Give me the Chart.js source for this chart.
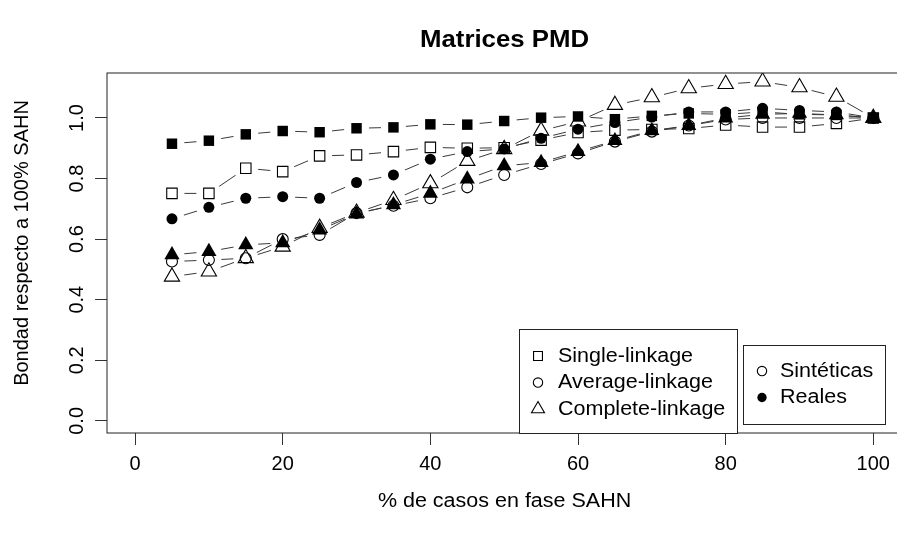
<!DOCTYPE html>
<html>
<head>
<meta charset="utf-8">
<script src="https://cdn.jsdelivr.net/npm/chart.js@4.4.0/dist/chart.umd.min.js"></script>
<style>
  html, body { margin: 0; padding: 0; background: #fff; overflow: hidden; }
  #wrap { width: 912px; height: 537px; }
</style>
</head>
<body>
<div id="wrap"><canvas id="chart" width="912" height="537"></canvas></div>
<script>
// Data
const xValues = [5, 10, 15, 20, 25, 30, 35, 40, 45, 50, 55, 60, 65, 70, 75, 80, 85, 90, 95, 100];

const singleSint = [0.751, 0.751, 0.834, 0.823, 0.875, 0.878, 0.889, 0.903, 0.900, 0.902, 0.927, 0.952, 0.960, 0.962, 0.965, 0.977, 0.970, 0.970, 0.982, 1.0];
const singleReal = [0.915, 0.925, 0.946, 0.957, 0.953, 0.966, 0.969, 0.979, 0.978, 0.990, 1.001, 1.005, 0.996, 1.007, 1.015, 1.012, 1.020, 1.012, 1.010, 1.0];
const averageSint = [0.526, 0.531, 0.537, 0.600, 0.614, 0.686, 0.710, 0.735, 0.771, 0.812, 0.848, 0.883, 0.922, 0.955, 0.975, 0.995, 1.000, 1.000, 1.000, 1.0];
const averageReal = [0.667, 0.705, 0.735, 0.740, 0.735, 0.787, 0.812, 0.864, 0.889, 0.898, 0.933, 0.963, 0.985, 1.003, 1.020, 1.020, 1.032, 1.025, 1.020, 1.0];
const completeSint = [0.476, 0.493, 0.537, 0.575, 0.637, 0.687, 0.729, 0.784, 0.858, 0.897, 0.958, 0.988, 1.043, 1.068, 1.098, 1.112, 1.120, 1.101, 1.070, 1.0];
const completeReal = [0.548, 0.559, 0.581, 0.588, 0.630, 0.683, 0.713, 0.751, 0.798, 0.842, 0.853, 0.889, 0.925, 0.958, 0.975, 1.000, 1.012, 1.015, 1.010, 1.0];

const xTicks = [0, 20, 40, 60, 80, 100];
const yTicks = [0, 0.2, 0.4, 0.6, 0.8, 1.0];
const yTickLabels = ['0.0', '0.2', '0.4', '0.6', '0.8', '1.0'];

const chartTitle = 'Matrices PMD';
const xTitle = '% de casos en fase SAHN';
const yTitle = 'Bondad respecto a 100% SAHN';
const methodLabels = ['Single-linkage', 'Average-linkage', 'Complete-linkage'];
const typeLabels = ['Sintéticas', 'Reales'];

const FONT = "'Liberation Sans', Arial, Helvetica, sans-serif";
const GAP = 12.5; // R type="b" leaves a gap round each point
const STRETCH = 1.075; // horizontal text in the reference runs a little wide

// marker size for each point style
const markerRadius = { rect: 7.4, circle: 5.5, triangle: 8.8 };

const series = [
  { data: singleReal, style: 'rect', filled: true },
  { data: averageReal, style: 'circle', filled: true },
  { data: completeReal, style: 'triangle', filled: true },
  { data: singleSint, style: 'rect', filled: false },
  { data: averageSint, style: 'circle', filled: false },
  { data: completeSint, style: 'triangle', filled: false },
];

const toPoints = (values) => values.map((v, i) => ({ x: xValues[i], y: v }));

const datasets = [];
// connecting lines first, under the markers
series.forEach((s) => {
  datasets.push({
    isLine: true,
    data: toPoints(s.data),
    showLine: true,
    borderColor: '#3a3a3a',
    borderWidth: 1,
    pointRadius: 0,
    pointHoverRadius: 0,
    order: 2,
  });
});
series.forEach((s) => {
  datasets.push({
    data: toPoints(s.data),
    showLine: false,
    pointStyle: s.style,
    pointRadius: markerRadius[s.style],
    pointHoverRadius: markerRadius[s.style],
    pointBackgroundColor: s.filled ? '#000' : 'rgba(0,0,0,0)',
    pointBorderColor: '#000',
    pointBorderWidth: s.filled ? 0 : 1.1,
    order: 1,
  });
});

// clip small discs round each point so the lines stop short of the markers
const gapPlugin = {
  id: 'gapLines',
  beforeDatasetDraw(chart, args) {
    const ds = chart.data.datasets[args.index];
    if (!ds.isLine) return;
    const ctx = chart.ctx;
    ctx.save();
    ctx.beginPath();
    ctx.rect(0, 0, chart.width, chart.height);
    args.meta.data.forEach((pt) => {
      ctx.moveTo(pt.x + GAP, pt.y);
      ctx.arc(pt.x, pt.y, GAP, 0, Math.PI * 2);
    });
    ctx.clip('evenodd');
  },
  afterDatasetDraw(chart, args) {
    const ds = chart.data.datasets[args.index];
    if (ds.isLine) chart.ctx.restore();
  },
};

function drawSymbol(ctx, style, filled, r, x, y) {
  ctx.save();
  ctx.fillStyle = filled ? '#000' : 'rgba(0,0,0,0)';
  ctx.strokeStyle = '#000';
  ctx.lineWidth = filled ? 0 : 1.1;
  Chart.helpers.drawPoint(ctx, { pointStyle: style, radius: r, borderWidth: filled ? 0 : 1.1, rotation: 0 }, x, y);
  ctx.restore();
}

function drawText(ctx, text, x, y, angle, stretch) {
  ctx.save();
  ctx.translate(x, y);
  if (angle) ctx.rotate(angle);
  ctx.scale(stretch, 1);
  ctx.fillText(text, 0, 0);
  ctx.restore();
}

// box, y labels, titles and both legends, R style
const framePlugin = {
  id: 'frame',
  afterDraw(chart) {
    const ctx = chart.ctx;
    const area = chart.chartArea;
    const yScale = chart.scales.y;
    const midX = (area.left + area.right) / 2;

    ctx.save();
    ctx.strokeStyle = '#222';
    ctx.lineWidth = 1;
    ctx.strokeRect(area.left, area.top, area.right - area.left, area.bottom - area.top);

    ctx.fillStyle = '#000';
    ctx.font = `20px ${FONT}`;
    ctx.textAlign = 'center';
    ctx.textBaseline = 'middle';

    yTicks.forEach((v, i) => {
      const y = yScale.getPixelForValue(v);
      drawText(ctx, yTickLabels[i], 77, y, -Math.PI / 2, 1);
    });

    drawText(ctx, yTitle, 22, 243, -Math.PI / 2, 1);
    drawText(ctx, xTitle, midX, 501, 0, STRETCH);

    ctx.font = `bold 24px ${FONT}`;
    drawText(ctx, chartTitle, midX, 40, 0, STRETCH);

    // legend: methods
    ctx.fillStyle = '#fff';
    ctx.fillRect(519.5, 329.5, 218, 104);
    ctx.strokeRect(519.5, 329.5, 218, 104);
    const styles = ['rect', 'circle', 'triangle'];
    ctx.font = `20px ${FONT}`;
    methodLabels.forEach((label, i) => {
      const y = 356 + i * 26.5;
      drawSymbol(ctx, styles[i], false, markerRadius[styles[i]] * 0.85, 538, y);
      ctx.fillStyle = '#000';
      ctx.textAlign = 'left';
      drawText(ctx, label, 558, y, 0, STRETCH);
    });

    // legend: data type
    ctx.fillStyle = '#fff';
    ctx.fillRect(743.5, 345.5, 142, 79);
    ctx.strokeRect(743.5, 345.5, 142, 79);
    typeLabels.forEach((label, i) => {
      const y = 371 + i * 26.5;
      drawSymbol(ctx, 'circle', i === 1, markerRadius.circle * 0.85, 762, y);
      ctx.fillStyle = '#000';
      ctx.textAlign = 'left';
      drawText(ctx, label, 780, y, 0, STRETCH);
    });
    ctx.restore();
  },
};

new Chart(document.getElementById('chart').getContext('2d'), {
  type: 'scatter',
  data: { datasets },
  options: {
    responsive: false,
    animation: false,
    events: [],
    layout: { padding: { left: 0, top: 73, right: 8, bottom: 0 } },
    plugins: {
      legend: { display: false },
      title: { display: false },
      tooltip: { enabled: false },
    },
    scales: {
      x: {
        type: 'linear',
        min: -3.8,
        max: 103.9,
        afterBuildTicks: (scale) => {
          scale.ticks = xTicks.map((v) => ({ value: v }));
        },
        afterFit: (scale) => {
          scale.height = 104;
        },
        grid: { drawOnChartArea: false, drawTicks: true, tickLength: 12, color: '#333' },
        border: { display: false },
        ticks: {
          color: '#000',
          font: { family: FONT, size: 20 },
          padding: 7,
          maxRotation: 0,
          autoSkip: false,
        },
      },
      y: {
        type: 'linear',
        min: -0.04,
        max: 1.1485,
        afterBuildTicks: (scale) => {
          scale.ticks = yTicks.map((v) => ({ value: v }));
        },
        afterFit: (scale) => {
          scale.width = 107;
        },
        grid: { drawOnChartArea: false, drawTicks: true, tickLength: 12, color: '#333' },
        border: { display: false },
        ticks: { display: false },
      },
    },
  },
  plugins: [gapPlugin, framePlugin],
});
</script>
</body>
</html>
